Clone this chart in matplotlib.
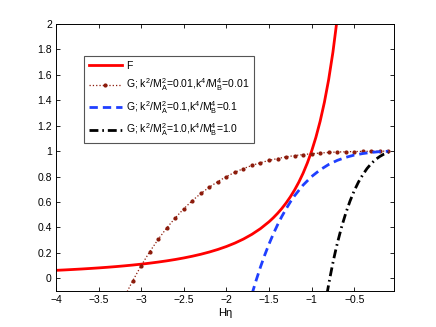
import matplotlib
matplotlib.use("Agg")
import matplotlib.pyplot as plt

plt.rcParams['font.family'] = ['Liberation Sans', 'DejaVu Sans']
plt.rcParams['mathtext.default'] = 'regular'

# F curve
f_x = [-4.0, -3.9, -3.8, -3.7, -3.6, -3.5, -3.4, -3.3, -3.2, -3.1, -3.0, -2.9, -2.8, -2.7,
       -2.6, -2.5, -2.4, -2.3, -2.2, -2.1, -2.0, -1.9, -1.8, -1.7, -1.6, -1.5, -1.45, -1.4,
       -1.35, -1.3, -1.25, -1.2, -1.15, -1.1, -1.05, -1.0, -0.95, -0.9, -0.85, -0.8, -0.75,
       -0.7, -0.65]
f_y = [0.0625, 0.0657, 0.0693, 0.0730, 0.0772, 0.0816, 0.0865, 0.0918, 0.0977, 0.1041,
       0.1111, 0.1189, 0.1276, 0.1372, 0.1479, 0.1600, 0.1736, 0.1890, 0.2066, 0.2268,
       0.2500, 0.2770, 0.3086, 0.3460, 0.3906, 0.4444, 0.4756, 0.5102, 0.5487, 0.5917,
       0.6400, 0.6944, 0.7561, 0.8264, 0.9070, 1.0000, 1.1080, 1.2346, 1.3841, 1.5625,
       1.7778, 2.0408, 2.3669]

# G, k2/MA2 = 0.01
g1_x = [-3.2, -3.1, -3.0, -2.9, -2.8, -2.7, -2.6, -2.5, -2.4, -2.3, -2.2, -2.1, -2.0,
        -1.9, -1.8, -1.7, -1.6, -1.5, -1.4, -1.3, -1.2, -1.1, -1.0, -0.9, -0.8, -0.7,
        -0.6, -0.5, -0.4, -0.3, -0.2, -0.1]
g1_y = [-0.151, -0.020, 0.100, 0.209, 0.307, 0.396, 0.475, 0.547, 0.611, 0.667, 0.717,
        0.761, 0.800, 0.834, 0.863, 0.888, 0.909, 0.927, 0.942, 0.955, 0.965, 0.973,
        0.980, 0.985, 0.990, 0.993, 0.995, 0.997, 0.998, 0.999, 1.000, 1.000]

# G, k2/MA2 = 0.1
g2_x = [-1.7, -1.65, -1.6, -1.55, -1.5, -1.45, -1.4, -1.35, -1.3, -1.25, -1.2, -1.1,
        -1.0, -0.9, -0.8, -0.7, -0.6, -0.5, -0.4, -0.3, -0.2, -0.1]
g2_y = [-0.124, -0.014, 0.089, 0.183, 0.269, 0.348, 0.420, 0.486, 0.545, 0.600, 0.649,
        0.733, 0.800, 0.853, 0.895, 0.927, 0.951, 0.969, 0.981, 0.990, 0.996, 0.999]

# G, k2/MA2 = 1.0
g3_x = [-0.82, -0.8, -0.78, -0.76, -0.74, -0.72, -0.7, -0.65, -0.6, -0.55, -0.5, -0.45,
        -0.4, -0.35, -0.3, -0.25, -0.2, -0.15, -0.1]
g3_y = [-0.125, -0.050, 0.021, 0.089, 0.153, 0.213, 0.270, 0.399, 0.510, 0.606, 0.688,
        0.757, 0.814, 0.863, 0.902, 0.934, 0.958, 0.977, 0.990]

labels = ['F',
          'G; k$^2$/M$_A^2$=0.01,k$^4$/M$_B^4$=0.01',
          'G; k$^2$/M$_A^2$=0.1,k$^4$/M$_B^4$=0.1',
          'G; k$^2$/M$_A^2$=1.0,k$^4$/M$_B^4$=1.0']
xticks = [-4, -3.5, -3, -2.5, -2, -1.5, -1, -0.5]
xticklabels = ['\u22124', '\u22123.5', '\u22123', '\u22122.5', '\u22122', '\u22121.5', '\u22121', '\u22120.5']
yticks = [0, 0.2, 0.4, 0.6, 0.8, 1, 1.2, 1.4, 1.6, 1.8, 2]
yticklabels = ['0', '0.2', '0.4', '0.6', '0.8', '1', '1.2', '1.4', '1.6', '1.8', '2']

fig = plt.figure(figsize=(4.36, 3.27), dpi=100)
ax = fig.add_axes([56/436, 1-291/327, (394-56)/436, (291-24)/327])

ax.plot(f_x, f_y, color='#ff0000', lw=2.0, label=labels[0])
ax.plot(g1_x, g1_y, color='#8c1a0a', lw=0.9, ls=':', marker='o', ms=2.0,
        mec='#8c1a0a', mfc='#8c1a0a', label=labels[1])
ax.plot(g2_x, g2_y, color='#1f3fff', lw=2.0, ls=(0, (3.0, 1.8)), label=labels[2])
ax.plot(g3_x, g3_y, color='black', lw=2.0, ls=(0, (3.2, 1.4, 0.6, 1.4)), label=labels[3])

ax.set_xlim(-4, -0.033)
ax.set_ylim(-0.1, 2)
ax.set_xticks(xticks)
ax.set_xticklabels(xticklabels)
ax.set_yticks(yticks)
ax.set_yticklabels(yticklabels)
ax.tick_params(direction='in', top=True, right=True, length=3, width=0.6,
               labelsize=7.5, pad=3)
for s in ax.spines.values():
    s.set_linewidth(0.7)
ax.set_xlabel('H\u03b7', fontsize=8, labelpad=2)

leg = ax.legend(loc='upper left', bbox_to_anchor=(84/436, 1-56/327),
                bbox_transform=fig.transFigure, borderaxespad=0, fontsize=7.5,
                handlelength=3.2, handletextpad=0.4, labelspacing=0.55,
                borderpad=0.45, numpoints=1, fancybox=False, framealpha=1,
                edgecolor='#555555')
leg.get_frame().set_linewidth(0.8)

fig.savefig('out.png', dpi=100)
